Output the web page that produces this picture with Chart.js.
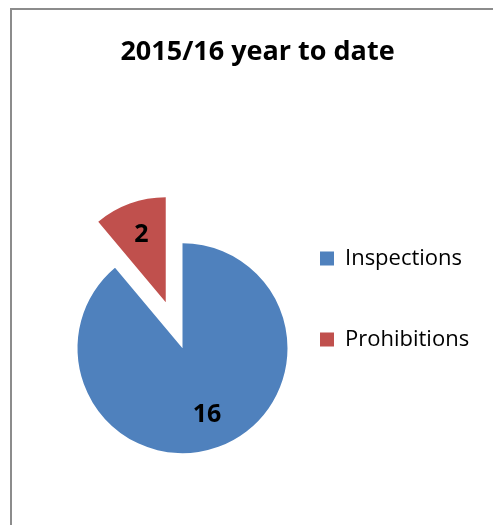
<!DOCTYPE html>
<html>
<head>
<meta charset="utf-8">
<title>2015/16 year to date</title>
<script src="https://cdn.jsdelivr.net/npm/chart.js@4/dist/chart.umd.min.js"></script>
<style>
  html, body { margin: 0; padding: 0; background: #fff; overflow: hidden; }
  #wrap { position: absolute; left: 0; top: 0; width: 503px; height: 525px; }
  #frame {
    position: absolute; left: 10px; top: 8px; width: 600px; height: 600px;
    border-left: 2px solid #8c8c8c; border-top: 2px solid #8c8c8c;
    pointer-events: none;
  }
</style>
</head>
<body>
<div id="wrap"><canvas id="pieChart" width="503" height="525"></canvas></div>
<div id="frame"></div>
<script>
// Données
const categories = ['Inspections', 'Prohibitions'];
const counts = [16, 2];
const colours = ['#4f81bd', '#c0504d'];

// la part "Prohibitions" est détachée du camembert
const explodedSlice = 'Prohibitions';
const explodeDist = 49;
const labelRadius = 0.68;

const FONT = "'Open Sans', 'Noto Sans', sans-serif";

// décale la part détachée le long de sa bissectrice
const explodePlugin = {
    id: 'explode',
    afterUpdate(chart) {
        const meta = chart.getDatasetMeta(0);
        meta.data.forEach((arc, i) => {
            if (chart.data.labels[i] !== explodedSlice) return;
            const mid = (arc.startAngle + arc.endAngle) / 2;
            arc.x += Math.cos(mid) * explodeDist;
            arc.y += Math.sin(mid) * explodeDist;
        });
    }
};

// la légende est étroite (pour centrer le titre) : on évite que le texte soit coupé
const legendOverflow = {
    id: 'legendOverflow',
    afterLayout(chart) {
        const lg = chart.legend;
        lg.right = chart.width;
        lg.width = lg.right - lg.left;
    }
};

// étiquettes de valeur sur chaque part
const valueLabels = {
    id: 'valueLabels',
    afterDatasetsDraw(chart) {
        const ctx = chart.ctx;
        const meta = chart.getDatasetMeta(0);
        const values = chart.data.datasets[0].data;
        ctx.save();
        ctx.font = "bold 25px " + FONT;
        ctx.fillStyle = '#000';
        ctx.textAlign = 'center';
        ctx.textBaseline = 'middle';
        meta.data.forEach((arc, i) => {
            const mid = (arc.startAngle + arc.endAngle) / 2;
            const r = arc.outerRadius * labelRadius;
            ctx.fillText(String(values[i]), arc.x + Math.cos(mid) * r, arc.y + Math.sin(mid) * r);
        });
        ctx.restore();
    }
};

const pieCtx = document.getElementById('pieChart').getContext('2d');
const pieChart = new Chart(pieCtx, {
    type: 'pie',
    data: {
        labels: categories,
        datasets: [{
            data: counts,
            backgroundColor: colours,
            borderWidth: 0,
            clip: false
        }]
    },
    options: {
        responsive: false,
        animation: false,
        events: [],
        radius: 105,
        layout: {
            padding: { left: 104, right: 92, top: 10, bottom: 17 }
        },
        plugins: {
            title: {
                display: true,
                text: '2015/16 year to date',
                color: '#000',
                font: { family: FONT, size: 27, weight: 'bold' },
                padding: { top: 26, bottom: 120 }
            },
            legend: {
                position: 'right',
                align: 'start',
                fullSize: false,
                maxWidth: 150,
                labels: {
                    color: '#000',
                    boxWidth: 14,
                    boxHeight: 14,
                    padding: 59,
                    font: { family: FONT, size: 22 }
                }
            },
            tooltip: { enabled: false }
        }
    },
    plugins: [explodePlugin, legendOverflow, valueLabels]
});
</script>
</body>
</html>
